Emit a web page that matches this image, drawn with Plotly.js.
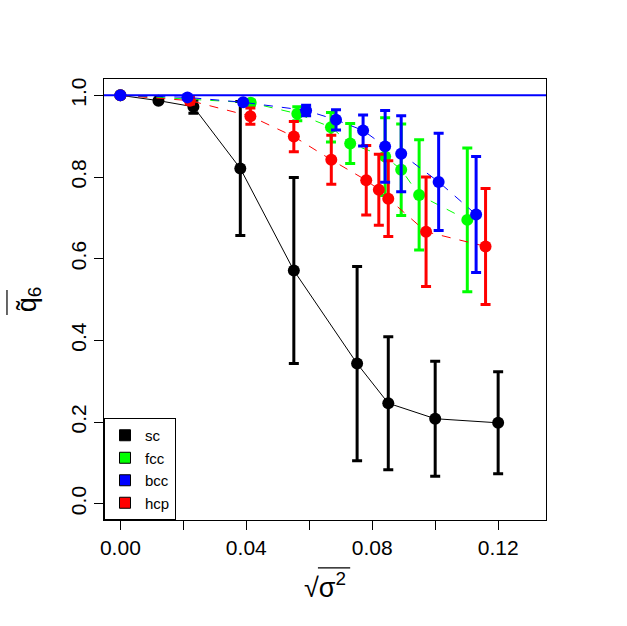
<!DOCTYPE html>
<html><head><meta charset="utf-8">
<script src="https://cdn.plot.ly/plotly-3.0.1.min.js"></script>
<style>html,body{margin:0;padding:0;background:#fff}</style>
</head><body><div id="chart" style="width:627px;height:626px"></div>
<script>
// ---- data ----
const seriesNames = ["sc", "fcc", "bcc", "hcp"];
const seriesColors = ["#000000", "#00FF00", "#0000FF", "#FF0000"];

const scX   = [0, 0.0121, 0.0232, 0.0381, 0.0551, 0.0752, 0.0851, 0.1000, 0.1200];
const scY   = [1.000, 0.987, 0.972, 0.821, 0.571, 0.343, 0.246, 0.208, 0.198];
const scErr = [0, 0.003, 0.016, 0.164, 0.228, 0.238, 0.163, 0.141, 0.125];

const fccX   = [0, 0.0414, 0.0562, 0.0669, 0.0730, 0.0841, 0.0892, 0.0949, 0.1102];
const fccY   = [1.000, 0.982, 0.955, 0.922, 0.882, 0.850, 0.818, 0.756, 0.695];
const fccErr = [0, 0.006, 0.017, 0.036, 0.049, 0.095, 0.112, 0.135, 0.176];

const bccX   = [0, 0.0213, 0.0390, 0.0590, 0.0685, 0.0771, 0.0841, 0.0892, 0.1011, 0.1130];
const bccY   = [1.000, 0.995, 0.983, 0.963, 0.940, 0.914, 0.875, 0.857, 0.788, 0.708];
const bccErr = [0, 0.003, 0.005, 0.013, 0.025, 0.038, 0.088, 0.093, 0.119, 0.142];

const hcpX   = [0, 0.0221, 0.0413, 0.0551, 0.0670, 0.0781, 0.0821, 0.0851, 0.0971, 0.1160];
const hcpY   = [1.000, 0.987, 0.949, 0.899, 0.842, 0.792, 0.769, 0.747, 0.666, 0.630];
const hcpErr = [0, 0.008, 0.020, 0.037, 0.060, 0.085, 0.087, 0.093, 0.134, 0.142];

const referenceLevel = 1.0;

const xTickVals = [0, 0.04, 0.08, 0.12];
const xTickText = ["0.00", "0.04", "0.08", "0.12"];
const yTickVals = [0, 0.2, 0.4, 0.6, 0.8, 1.0];
const yTickText = ["0.0", "0.2", "0.4", "0.6", "0.8", "1.0"];

// ---- traces ----
function series(x, y, err, color, dash) {
  return {
    type: "scatter", mode: "lines+markers", x: x, y: y, showlegend: false,
    line: {color: color, width: 1, dash: dash},
    marker: {color: color, size: 12, symbol: "circle"},
    error_y: {type: "data", array: err, visible: true, color: color, thickness: 3, width: 5},
    hoverinfo: "skip"
  };
}
const data = [
  series(scX, scY, scErr, seriesColors[0], "solid"),
  series(fccX, fccY, fccErr, seriesColors[1], "dash"),
  series(hcpX, hcpY, hcpErr, seriesColors[3], "dash"),
  series(bccX, bccY, bccErr, seriesColors[2], "dash")
];
seriesNames.forEach(function (n, i) {
  data.push({
    type: "scatter", mode: "markers", x: [null], y: [null], name: n,
    marker: {symbol: "square", size: 11, color: seriesColors[i], line: {color: "#000", width: 1}}
  });
});

const font = "Liberation Sans, Arial, sans-serif";
const layout = {
  width: 627, height: 626,
  margin: {l: 104, r: 81, t: 79, b: 106, pad: 0},
  paper_bgcolor: "#fff", plot_bgcolor: "#fff",
  font: {family: font, color: "#000"},
  showlegend: true,
  legend: {
    x: 0, y: 0, xanchor: "left", yanchor: "bottom",
    bgcolor: "#fff", bordercolor: "#000", borderwidth: 1,
    font: {family: font, size: 15, color: "#000"},
    itemsizing: "trace", traceorder: "normal"
  },
  xaxis: {
    range: [-0.0052, 0.1352], tickvals: xTickVals, ticktext: xTickText,
    showgrid: false, zeroline: false, showline: true, mirror: true,
    linecolor: "#000", linewidth: 1, ticks: "outside", ticklen: 9, tickcolor: "#000",
    minor: {dtick: 0.02, tick0: 0, ticks: "outside", ticklen: 9, tickcolor: "#000", showgrid: false},
    tickfont: {family: font, size: 21},
    title: {text: "√σ<sup>2</sup>", font: {family: font, size: 27}, standoff: 19}
  },
  yaxis: {
    range: [-0.04, 1.04], tickvals: yTickVals, ticktext: yTickText, tickangle: -90,
    showgrid: false, zeroline: false, showline: true, mirror: true,
    linecolor: "#000", linewidth: 1, ticks: "outside", ticklen: 9, tickcolor: "#000",
    tickfont: {family: font, size: 21},
    title: {text: "q̃<sub>6</sub>", font: {family: font, size: 27}, standoff: 22}
  },
  shapes: [
    {type: "line", xref: "paper", x0: 0, x1: 1, yref: "y", y0: referenceLevel, y1: referenceLevel,
     line: {color: "#0000FF", width: 2}, layer: "above"},
    // overline of the radical in the x title
    {type: "line", xref: "paper", yref: "paper", x0: 0.484, x1: 0.557, y0: -0.1085, y1: -0.1085,
     line: {color: "#000", width: 1.2}},
    // overline (mean bar) in the y title
    {type: "line", xref: "paper", yref: "paper", x0: -0.2195, x1: -0.2195, y0: 0.465, y1: 0.5215,
     line: {color: "#000", width: 1.2}}
  ]
};
Plotly.newPlot("chart", data, layout, {displayModeBar: false, staticPlot: true});
</script></body></html>
